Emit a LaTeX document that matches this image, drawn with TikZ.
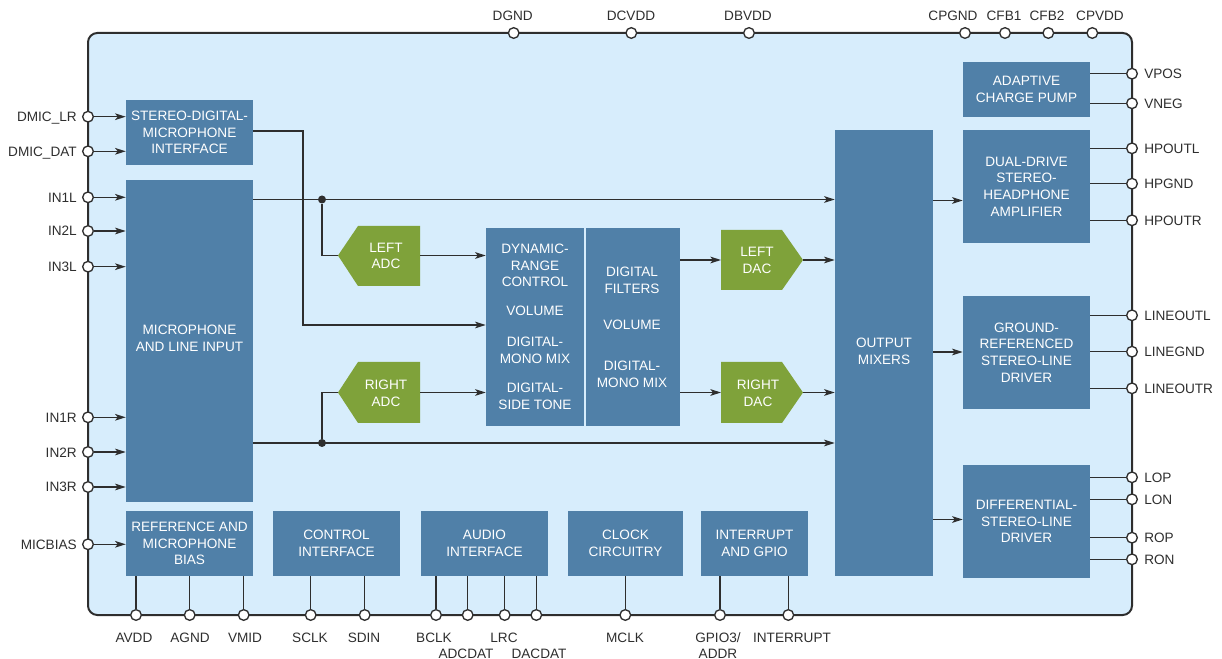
\documentclass[tikz,border=0pt]{standalone}
\usepackage{fontspec}
\setmainfont{Liberation Sans}
\usetikzlibrary{arrows.meta,calc}
\definecolor{chipbg}{HTML}{D7EDFC}
\definecolor{blkblue}{HTML}{5080A8}
\definecolor{grn}{HTML}{7FA23A}
\definecolor{ink}{HTML}{2E2E2E}
\begin{document}
\begin{tikzpicture}[x=0.75pt,y=-0.75pt,
 font=\fontsize{10.2}{12.5}\selectfont,
 blk/.style={fill=blkblue, text=white, inner sep=0pt, align=center},
 bx/.style n args={4}{blk, minimum width={(#3-#1)*0.75pt}, minimum height={(#4-#2)*0.75pt},
   at={({(#1+#3)/2},{(#2+#4)/2})}},
 pin/.style={circle, draw=ink, fill=white, line width=1pt, minimum size=8pt, inner sep=0pt},
 wire/.style={draw=ink, line width=1pt},
 arr/.style={wire, -{Stealth[length=8pt,width=5pt,inset=2pt]}},
 lbl/.style={text=ink, inner sep=0pt},
 wtxt/.style={text=white, inner sep=0pt, align=center},
 dotn/.style={circle, fill=ink, minimum size=6pt, inner sep=0pt}
]
\useasboundingbox (0,0) rectangle (1222,659);
\draw[fill=chipbg, draw=ink, line width=1.5pt, rounded corners=7pt] (88,33) rectangle (1132,615);

% blocks
\node[bx={126}{100}{253}{165}] (sdmi) {STEREO-DIGITAL-\\MICROPHONE\\INTERFACE};
\node[bx={126}{180}{253}{502}] (mli) {};
\node[wtxt] (mlitxt) at (189.5,338.5) {MICROPHONE\\AND LINE INPUT};
\node[bx={126}{511}{253}{576}] (rmb) {REFERENCE AND\\MICROPHONE\\BIAS};
\node[bx={273}{511}{400}{576}] (ctl) {CONTROL\\INTERFACE};
\node[bx={421}{511}{548}{576}] (aif) {AUDIO\\INTERFACE};
\node[bx={568}{511}{683}{576}] (clk) {CLOCK\\CIRCUITRY};
\node[bx={701}{511}{808}{576}] (gpio) {INTERRUPT\\AND GPIO};
\node[bx={835}{130}{933}{576}] (omx) {};
\node[wtxt] (omxtxt) at (884,351.5) {OUTPUT\\MIXERS};
\node[bx={963}{62}{1090}{117}] (acp) {ADAPTIVE\\CHARGE PUMP};
\node[bx={963}{130}{1090}{243}] (hpa) {DUAL-DRIVE\\STEREO-\\HEADPHONE\\AMPLIFIER};
\node[bx={963}{296}{1090}{409}] (grl) {GROUND-\\REFERENCED\\STEREO-LINE\\DRIVER};
\node[bx={963}{465}{1090}{578}] (dld) {DIFFERENTIAL-\\STEREO-LINE\\DRIVER};
\node[bx={486}{228}{584}{426}] (drc) {};
\node[bx={586}{228}{680}{426}] (dfl) {};
\node[wtxt] (drct1) at (535,265.5) {DYNAMIC-\\RANGE\\CONTROL};
\node[wtxt] (drct2) at (535,311) {VOLUME};
\node[wtxt] (drct3) at (535,350) {DIGITAL-\\MONO MIX};
\node[wtxt] (drct4) at (535,396) {DIGITAL-\\SIDE TONE};
\node[wtxt] (dflt1) at (632,280) {DIGITAL\\FILTERS};
\node[wtxt] (dflt2) at (632,325) {VOLUME};
\node[wtxt] (dflt3) at (632,374) {DIGITAL-\\MONO MIX};

% converters
\fill[grn] (420,226) -- (358,226) -- (338,255.5) -- (358,286) -- (420,286) -- cycle;
\node[wtxt] (ladc) at (386,256) {LEFT\\ADC};
\coordinate (ladcin) at (338,255.5); \coordinate (ladcout) at (420,255.5);
\fill[grn] (420,362) -- (358,362) -- (338,392.5) -- (358,423) -- (420,423) -- cycle;
\node[wtxt] (radc) at (386,393) {RIGHT\\ADC};
\coordinate (radcin) at (338,392.5); \coordinate (radcout) at (420,392.5);
\fill[grn] (721,230) -- (782,230) -- (803,260) -- (782,290) -- (721,290) -- cycle;
\node[wtxt] (ldac) at (757,260.5) {LEFT\\DAC};
\coordinate (ldacin) at (721,260); \coordinate (ldacout) at (803,260);
\fill[grn] (721,362) -- (782,362) -- (803,392.5) -- (782,423) -- (721,423) -- cycle;
\node[wtxt] (rdac) at (758,393) {RIGHT\\DAC};
\coordinate (rdacin) at (721,392.5); \coordinate (rdacout) at (803,392.5);

% internal wires
\draw[arr] (sdmi.east |- 0,131) -| (303,325) -- (drc.west |- 303,325);
\node[dotn] (j1) at (322,199.5) {};
\node[dotn] (j2) at (322,443) {};
\draw[arr] (mli.east |- j1) -- (omx.west |- j1);
\draw[arr] (mli.east |- j2) -- (omx.west |- j2);
\draw[wire] (j1) |- (ladcin);
\draw[wire] (j2) |- (radcin);
\draw[arr] (ladcout) -- (drc.west |- ladcout);
\draw[arr] (radcout) -- (drc.west |- radcout);
\draw[arr] (dfl.east |- ldacin) -- (ldacin);
\draw[arr] (dfl.east |- rdacin) -- (rdacin);
\draw[arr] (ldacout) -- (omx.west |- ldacout);
\draw[arr] (rdacout) -- (omx.west |- rdacout);
\draw[arr] (omx.east |- 0,200.5) -- (hpa.west |- 0,200.5);
\draw[arr] (omx.east |- 0,352) -- (grl.west |- 0,352);
\draw[arr] (omx.east |- 0,519.5) -- (dld.west |- 0,519.5);

% left pins
\foreach \n/\y/\t/\b in {dmiclr/116.7/DMIC\_LR/sdmi, dmicdat/151.3/DMIC\_DAT/sdmi,
  in1l/197.3/IN1L/mli, in2l/231/IN2L/mli, in3l/266.7/IN3L/mli,
  in1r/417.3/IN1R/mli, in2r/452/IN2R/mli, in3r/487/IN3R/mli, micbias/544.3/MICBIAS/rmb}{
  \node[pin] (p-\n) at (88,\y) {};
  \node[lbl, anchor=base east] (l-\n) at (77,\y+5) {\t};
  \draw[arr] (p-\n) -- (p-\n -| \b.west);
}
% top pins
\foreach \n/\x/\lx/\t in {dgnd/513.7/512.7/DGND, dcvdd/631.3/631/DCVDD, dbvdd/749/748/DBVDD,
  cpgnd/965/953/CPGND, cfb1/1005/1004/CFB1, cfb2/1048.3/1047/CFB2, cpvdd/1092.3/1100/CPVDD}{
  \node[pin] (p-\n) at (\x,33) {};
  \node[lbl, anchor=base] (l-\n) at (\lx,20.5) {\t};
}
% right pins
\foreach \n/\y/\t/\b in {vpos/73.7/VPOS/acp, vneg/103.3/VNEG/acp,
  hpoutl/148.3/HPOUTL/hpa, hpgnd/183.7/HPGND/hpa, hpoutr/220.3/HPOUTR/hpa,
  lineoutl/315.3/LINEOUTL/grl, linegnd/351.7/LINEGND/grl, lineoutr/388.3/LINEOUTR/grl,
  lop/477.3/LOP/dld, lon/499.3/LON/dld, rop/537.7/ROP/dld, ron/559.3/RON/dld}{
  \node[pin] (p-\n) at (1132,\y) {};
  \node[lbl, anchor=base west] (l-\n) at (1144,\y+5) {\t};
  \draw[wire] (p-\n -| \b.east) -- (p-\n);
}
% bottom pins
\foreach \n/\x/\b in {avdd/136/rmb, agnd/189.7/rmb, vmid/243.7/rmb,
  sclk/310.7/ctl, sdin/364.7/ctl, bclk/436/aif, adcdat/467.7/aif, lrc/504.7/aif,
  dacdat/536.3/aif, mclk/625.3/clk, gpio3/720/gpio, interrupt/788.3/gpio}{
  \node[pin] (p-\n) at (\x,615) {};
  \draw[wire] (p-\n |- \b.south) -- (p-\n);
}
\foreach \n/\x/\y/\t in {avdd/134/642.5/AVDD, agnd/190/642.5/AGND, vmid/245/642.5/VMID,
  sclk/310/642.5/SCLK, sdin/364/642.5/SDIN, bclk/434/642.5/BCLK, adcdat/466/658/ADCDAT,
  lrc/504/642.5/LRC, dacdat/539/658/DACDAT, mclk/625/642.5/MCLK, gpio3/718/642.5/{GPIO3/},
  addr/718/658/ADDR, interrupt/792/642.5/INTERRUPT}{
  \node[lbl, anchor=base] (l-\n) at (\x,\y) {\t};
}
\end{tikzpicture}
\end{document}
